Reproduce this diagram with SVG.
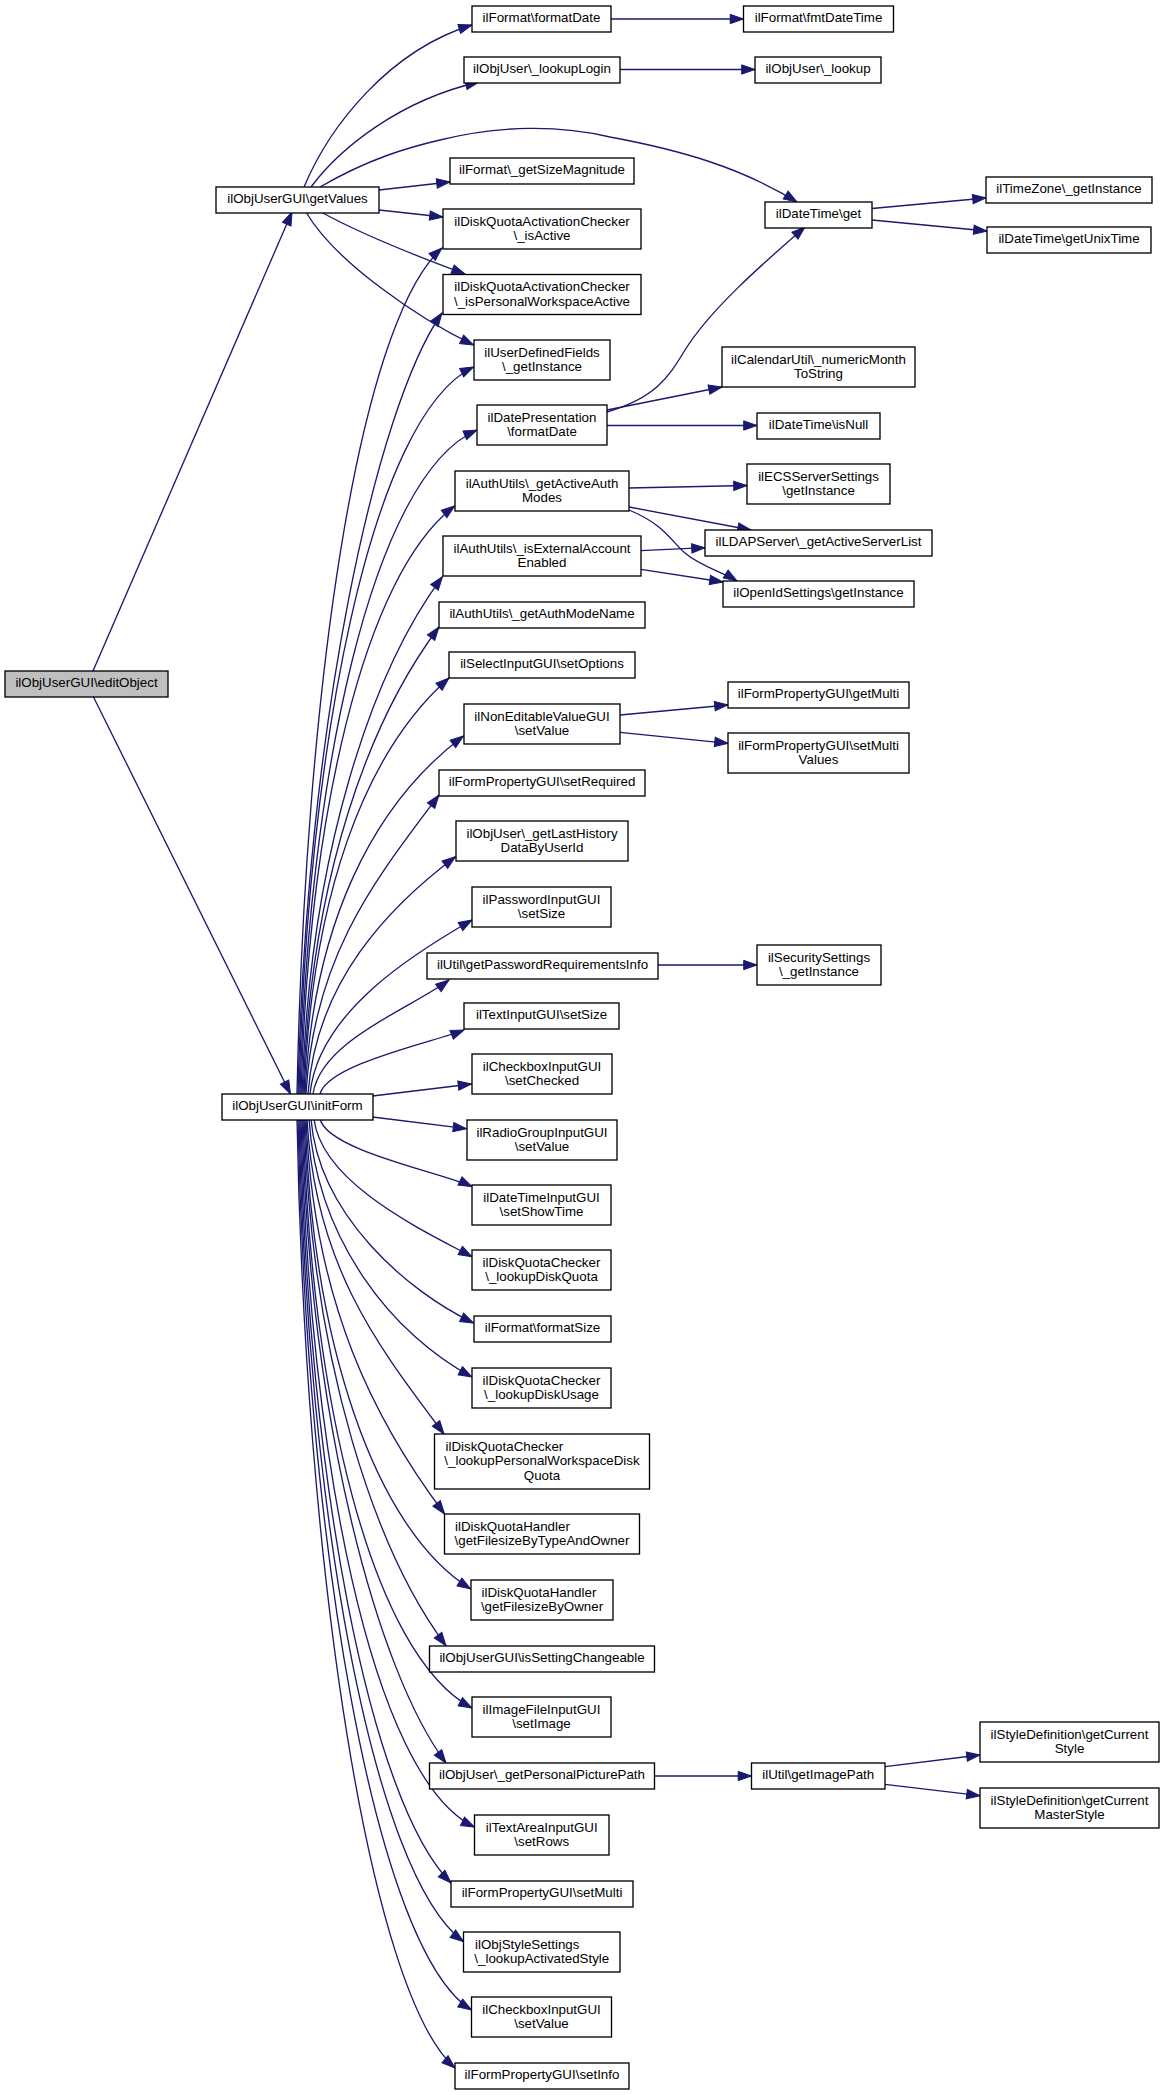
<svg xmlns="http://www.w3.org/2000/svg" width="1164" height="2095" viewBox="0 0 1164 2095">
<style>
.node rect{fill:#fff;stroke:#000;stroke-width:1.33}
.root rect{fill:#bfbfbf}
text{font-family:"Liberation Sans",Arial,Helvetica,sans-serif;font-size:13.33px;fill:#000;text-anchor:middle}
text.l{text-anchor:start}
#edges path{fill:none;stroke:#191970;stroke-width:1.33;marker-end:url(#arrow)}
</style>
<defs>
<marker id="arrow" markerUnits="userSpaceOnUse" markerWidth="14" markerHeight="10" refX="13.3" refY="4.67" orient="auto" overflow="visible">
<path d="M0,0 L13.3,4.67 L0,9.33 z" fill="#191970" stroke="#191970" stroke-width="1"/>
</marker>
</defs>
<rect x="0" y="0" width="1164" height="2095" fill="#fff"/>
<g id="edges">
<path d="M93,671 L292,212"/>
<path d="M93.5,697 L290.5,1094"/>
<path d="M304,187 C330,125 390,50 472,25"/>
<path d="M311,187 C340,148 400,100 479,82"/>
<path d="M320,187 C370,158 410,147 440,140 C500,125 560,125 610,137 C680,150 740,167 797,202"/>
<path d="M379,190 L450,182"/>
<path d="M379,210 L443,217"/>
<path d="M321,212 C350,228 400,250 465,274"/>
<path d="M306,212 C335,262 419.6,319.2 473.6,345"/>
<path d="M611,19 L743.5,19"/>
<path d="M620,69.5 L755,69.5"/>
<path d="M872,208.5 L986,198"/>
<path d="M872,220 L987,231"/>
<path d="M607,412 C655,398 668,378 685,350 C710,310 760,266 805,227"/>
<path d="M607,410 L722,387"/>
<path d="M607,425.5 L757,425.5"/>
<path d="M629,488 L747,485.5"/>
<path d="M629,507 L751,530"/>
<path d="M629,510 C665,525 670,540 685,553 C700,566 721.7,571.6 737,581"/>
<path d="M641,550.7 L705,547.7"/>
<path d="M641,569.3 L723,582"/>
<path d="M620,715 L728,705"/>
<path d="M620,732.3 L728,743.3"/>
<path d="M658,965 L757,965"/>
<path d="M654.7,1776 L751.5,1776"/>
<path d="M885,1766.7 L980,1755"/>
<path d="M885,1784.3 L980,1795.7"/>
<path d="M297,1094 C305,696 357,325 442,248"/>
<path d="M298,1094 C306,727 376,407 442,313"/>
<path d="M299,1094 C307,752 370,416.5 473.6,367"/>
<path d="M300,1094 C308,782 371,476 477,430"/>
<path d="M301,1094 C309,818 363,575 454.7,506"/>
<path d="M302,1094 C310,851 373.5,668.7 442.5,576.7"/>
<path d="M303,1094 C311,874.5 370,719 439,627"/>
<path d="M304,1094 C312,898.5 362.75,753.9 449,678"/>
<path d="M305,1094 C313,926 371.5,805 463.5,736"/>
<path d="M306,1094 C314,953.5 377.4,877.2 439,795"/>
<path d="M308,1094 C316,982.5 388.1,907.2 455.5,856.7"/>
<path d="M310,1094 C318,1012 415.3,952.6 472,920"/>
<path d="M313,1094 C321,1040.4 411.2,1008.3 449,980"/>
<path d="M320,1094 C328,1064 434.1,1041.9 464,1030"/>
<path d="M372.5,1096 L471.5,1084"/>
<path d="M372.5,1117 L466.5,1128.7"/>
<path d="M320,1119 C328,1150.8 442,1172.4 472,1186.7"/>
<path d="M314,1119 C322,1183.7 424.2,1231.2 472,1256.7"/>
<path d="M311,1119 C319,1214.9 406.8,1291.1 473.6,1323"/>
<path d="M309,1119 C317,1240.3 392.4,1334.5 472,1377"/>
<path d="M307,1119 C315,1267 379.5,1348 444,1434"/>
<path d="M306,1119 C314,1304.7 375.6,1422 444.6,1514"/>
<path d="M305,1119 C313,1340 373,1528 470.7,1589"/>
<path d="M304,1119 C312,1366.5 377,1553.7 446,1645.7"/>
<path d="M303,1119 C311,1395.8 370.8,1654 472,1708"/>
<path d="M302,1119 C310,1421.7 377,1671 446,1763"/>
<path d="M301,1119 C309,1451.8 371,1777.6 474.5,1827"/>
<path d="M300,1119 C308,1478 369.7,1801.7 451,1883"/>
<path d="M299,1119 C307,1505.7 371.5,1872.7 463.5,1941.7"/>
<path d="M298,1119 C306,1537.8 373.75,1949 471.5,2010"/>
<path d="M297,1119 C305,1565 368.75,1992.1 455,2068"/>
</g>
<g id="n-editObject" class="node root"><rect x="5" y="671" width="163" height="26"/><text x="86.5" y="687.3">ilObjUserGUI\editObject</text></g>
<g id="n-getValues" class="node"><rect x="216" y="187" width="163" height="26"/><text x="297.5" y="203.3">ilObjUserGUI\getValues</text></g>
<g id="n-initForm" class="node"><rect x="222" y="1094" width="151" height="26"/><text x="297.5" y="1110.3">ilObjUserGUI\initForm</text></g>
<g id="n-formatDate" class="node"><rect x="472" y="6" width="139" height="26"/><text x="541.5" y="22.3">ilFormat\formatDate</text></g>
<g id="n-fmtDateTime" class="node"><rect x="743.5" y="6" width="150" height="26"/><text x="818.5" y="22.3">ilFormat\fmtDateTime</text></g>
<g id="n-lookupLogin" class="node"><rect x="464" y="57" width="156" height="26"/><text x="542" y="73.3">ilObjUser\_lookupLogin</text></g>
<g id="n-lookup" class="node"><rect x="755" y="57" width="126" height="26"/><text x="818" y="73.3">ilObjUser\_lookup</text></g>
<g id="n-dtGet" class="node"><rect x="765" y="202" width="107" height="26"/><text x="818.5" y="218.3">ilDateTime\get</text></g>
<g id="n-tzGetInstance" class="node"><rect x="986" y="177" width="166" height="26"/><text x="1069" y="193.3">ilTimeZone\_getInstance</text></g>
<g id="n-getUnixTime" class="node"><rect x="987" y="227" width="164" height="26"/><text x="1069" y="243.3">ilDateTime\getUnixTime</text></g>
<g id="n-getSizeMagnitude" class="node"><rect x="450" y="158" width="184" height="26"/><text x="542" y="174.3">ilFormat\_getSizeMagnitude</text></g>
<g id="n-isActive" class="node"><rect x="443" y="209" width="198" height="40"/><text x="542" y="225.5">ilDiskQuotaActivationChecker</text><text x="542" y="240">\_isActive</text></g>
<g id="n-isPersonalWorkspaceActive" class="node"><rect x="443" y="274.5" width="198" height="40"/><text x="542" y="291">ilDiskQuotaActivationChecker</text><text x="542" y="305.5">\_isPersonalWorkspaceActive</text></g>
<g id="n-udfGetInstance" class="node"><rect x="474" y="340" width="136" height="40"/><text x="542" y="356.5">ilUserDefinedFields</text><text x="542" y="371">\_getInstance</text></g>
<g id="n-dpFormatDate" class="node"><rect x="477" y="405" width="130" height="40"/><text x="542" y="421.5">ilDatePresentation</text><text x="542" y="436">\formatDate</text></g>
<g id="n-numericMonth" class="node"><rect x="722" y="347" width="193" height="40"/><text x="818.5" y="363.5">ilCalendarUtil\_numericMonth</text><text x="818.5" y="378">ToString</text></g>
<g id="n-isNull" class="node"><rect x="757" y="413" width="123" height="26"/><text x="818.5" y="429.3">ilDateTime\isNull</text></g>
<g id="n-getActiveAuthModes" class="node"><rect x="455" y="471" width="174" height="40"/><text x="542" y="487.5">ilAuthUtils\_getActiveAuth</text><text x="542" y="502">Modes</text></g>
<g id="n-ecsGetInstance" class="node"><rect x="747" y="464" width="143" height="40"/><text x="818.5" y="480.5">ilECSServerSettings</text><text x="818.5" y="495">\getInstance</text></g>
<g id="n-ldapServerList" class="node"><rect x="705" y="530" width="227" height="26"/><text x="818.5" y="546.3">ilLDAPServer\_getActiveServerList</text></g>
<g id="n-openIdGetInstance" class="node"><rect x="723" y="581" width="191" height="26"/><text x="818.5" y="597.3">ilOpenIdSettings\getInstance</text></g>
<g id="n-isExternalAccountEnabled" class="node"><rect x="443" y="536" width="198" height="40"/><text x="542" y="552.5">ilAuthUtils\_isExternalAccount</text><text x="542" y="567">Enabled</text></g>
<g id="n-getAuthModeName" class="node"><rect x="439" y="602" width="206" height="26"/><text x="542" y="618.3">ilAuthUtils\_getAuthModeName</text></g>
<g id="n-setOptions" class="node"><rect x="449" y="652" width="186" height="26"/><text x="542" y="668.3">ilSelectInputGUI\setOptions</text></g>
<g id="n-nonEditableSetValue" class="node"><rect x="464" y="704" width="156" height="40"/><text x="542" y="720.5">ilNonEditableValueGUI</text><text x="542" y="735">\setValue</text></g>
<g id="n-getMulti" class="node"><rect x="728" y="682" width="181" height="26"/><text x="818.5" y="698.3">ilFormPropertyGUI\getMulti</text></g>
<g id="n-setMultiValues" class="node"><rect x="728" y="733" width="181" height="40"/><text x="818.5" y="749.5">ilFormPropertyGUI\setMulti</text><text x="818.5" y="764">Values</text></g>
<g id="n-setRequired" class="node"><rect x="439" y="770" width="206" height="26"/><text x="542" y="786.3">ilFormPropertyGUI\setRequired</text></g>
<g id="n-getLastHistory" class="node"><rect x="456" y="821" width="172" height="40"/><text x="542" y="837.5">ilObjUser\_getLastHistory</text><text x="542" y="852">DataByUserId</text></g>
<g id="n-passwordSetSize" class="node"><rect x="472" y="887" width="139" height="40"/><text x="541.5" y="903.5">ilPasswordInputGUI</text><text x="541.5" y="918">\setSize</text></g>
<g id="n-pwRequirements" class="node"><rect x="427" y="953" width="231" height="26"/><text x="542.5" y="969.3">ilUtil\getPasswordRequirementsInfo</text></g>
<g id="n-securityGetInstance" class="node"><rect x="757" y="945" width="124" height="40"/><text x="819" y="961.5">ilSecuritySettings</text><text x="819" y="976">\_getInstance</text></g>
<g id="n-textInputSetSize" class="node"><rect x="464" y="1003" width="155" height="26"/><text x="541.5" y="1019.3">ilTextInputGUI\setSize</text></g>
<g id="n-setChecked" class="node"><rect x="472" y="1054" width="140" height="40"/><text x="542" y="1070.5">ilCheckboxInputGUI</text><text x="542" y="1085">\setChecked</text></g>
<g id="n-radioSetValue" class="node"><rect x="467" y="1120" width="150" height="40"/><text x="542" y="1136.5">ilRadioGroupInputGUI</text><text x="542" y="1151">\setValue</text></g>
<g id="n-setShowTime" class="node"><rect x="472" y="1185" width="139" height="40"/><text x="541.5" y="1201.5">ilDateTimeInputGUI</text><text x="541.5" y="1216">\setShowTime</text></g>
<g id="n-lookupDiskQuota" class="node"><rect x="472" y="1250" width="139" height="40"/><text x="541.5" y="1266.5">ilDiskQuotaChecker</text><text x="541.5" y="1281">\_lookupDiskQuota</text></g>
<g id="n-formatSize" class="node"><rect x="474" y="1316" width="137" height="26"/><text x="542.5" y="1332.3">ilFormat\formatSize</text></g>
<g id="n-lookupDiskUsage" class="node"><rect x="472" y="1368" width="139" height="40"/><text x="541.5" y="1384.5">ilDiskQuotaChecker</text><text x="541.5" y="1399">\_lookupDiskUsage</text></g>
<g id="n-lookupPersonalWorkspaceDiskQuota" class="node"><rect x="434.5" y="1434" width="215" height="55"/><text class="l" x="445.5" y="1450.5">ilDiskQuotaChecker</text><text x="542" y="1465">\_lookupPersonalWorkspaceDisk</text><text x="542" y="1479.5">Quota</text></g>
<g id="n-getFilesizeByTypeAndOwner" class="node"><rect x="444.5" y="1514" width="195" height="40"/><text class="l" x="455" y="1530.5">ilDiskQuotaHandler</text><text x="542" y="1545">\getFilesizeByTypeAndOwner</text></g>
<g id="n-getFilesizeByOwner" class="node"><rect x="471" y="1580" width="142" height="40"/><text class="l" x="481.5" y="1596.5">ilDiskQuotaHandler</text><text x="542" y="1611">\getFilesizeByOwner</text></g>
<g id="n-isSettingChangeable" class="node"><rect x="429.5" y="1646" width="225" height="26"/><text x="542" y="1662.3">ilObjUserGUI\isSettingChangeable</text></g>
<g id="n-setImage" class="node"><rect x="472" y="1697" width="139" height="40"/><text x="541.5" y="1713.5">ilImageFileInputGUI</text><text x="541.5" y="1728">\setImage</text></g>
<g id="n-getPersonalPicturePath" class="node"><rect x="429.5" y="1763" width="225" height="26"/><text x="542" y="1779.3">ilObjUser\_getPersonalPicturePath</text></g>
<g id="n-getImagePath" class="node"><rect x="751.5" y="1763" width="133.5" height="26"/><text x="818.25" y="1779.3">ilUtil\getImagePath</text></g>
<g id="n-getCurrentStyle" class="node"><rect x="980" y="1722" width="179" height="40"/><text x="1069.5" y="1738.5">ilStyleDefinition\getCurrent</text><text x="1069.5" y="1753">Style</text></g>
<g id="n-getCurrentMasterStyle" class="node"><rect x="980" y="1788" width="179" height="40"/><text x="1069.5" y="1804.5">ilStyleDefinition\getCurrent</text><text x="1069.5" y="1819">MasterStyle</text></g>
<g id="n-setRows" class="node"><rect x="474.5" y="1815" width="134.5" height="40"/><text x="541.75" y="1831.5">ilTextAreaInputGUI</text><text x="541.75" y="1846">\setRows</text></g>
<g id="n-setMulti" class="node"><rect x="451" y="1881" width="182" height="26"/><text x="542" y="1897.3">ilFormPropertyGUI\setMulti</text></g>
<g id="n-lookupActivatedStyle" class="node"><rect x="463.5" y="1932" width="156.5" height="40"/><text class="l" x="475" y="1948.5">ilObjStyleSettings</text><text x="541.75" y="1963">\_lookupActivatedStyle</text></g>
<g id="n-checkboxSetValue" class="node"><rect x="471.5" y="1997" width="140" height="40"/><text x="541.5" y="2013.5">ilCheckboxInputGUI</text><text x="541.5" y="2028">\setValue</text></g>
<g id="n-setInfo" class="node"><rect x="455" y="2063" width="174" height="26"/><text x="542" y="2079.3">ilFormPropertyGUI\setInfo</text></g>
</svg>
